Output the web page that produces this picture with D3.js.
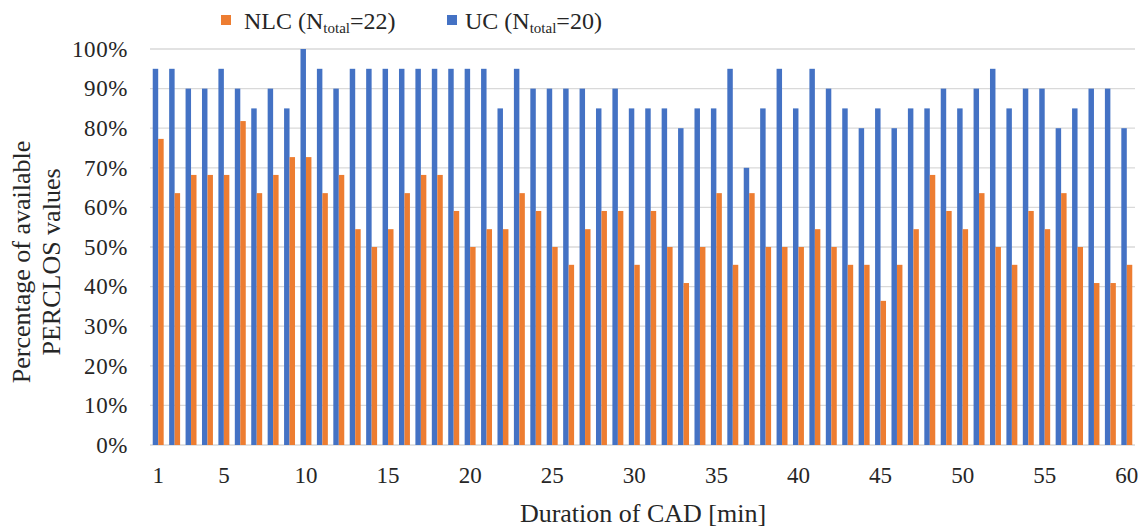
<!DOCTYPE html>
<html><head><meta charset="utf-8">
<script src="https://cdn.jsdelivr.net/npm/d3@7"></script>
<style>body{margin:0;background:#fff;}</style>
</head><body><svg id="c" width="1147" height="529"></svg>
<script>
const categories = d3.range(1, 61);
const ucValues = [95,95,90,90,95,90,85,90,85,100, 95,90,95,95,95,95,95,95,95,95, 95,85,95,90,90,90,90,85,90,85, 85,85,80,85,85,95,70,85,95,85, 95,90,85,80,85,80,85,85,90,85, 90,95,85,90,90,80,85,90,90,80];
const nlcValues = [77.3,63.6,68.2,68.2,68.2,81.8,63.6,68.2,72.7,72.7, 63.6,68.2,54.5,50,54.5,63.6,68.2,68.2,59.1,50, 54.5,54.5,63.6,59.1,50,45.5,54.5,59.1,59.1,45.5, 59.1,50,40.9,50,63.6,45.5,63.6,50,50,50, 54.5,50,45.5,45.5,36.4,45.5,54.5,68.2,59.1,54.5, 63.6,50,45.5,59.1,54.5,63.6,50,40.9,40.9,45.5];
const yTicks = [0,10,20,30,40,50,60,70,80,90,100];
const xTickLabels = [1,5,10,15,20,25,30,35,40,45,50,55,60];
const series = [
  {key:"UC", values: ucValues, color:"#4472c4"},
  {key:"NLC", values: nlcValues, color:"#ed7d31"}
];

const FONT = "'Liberation Serif', 'Times New Roman', 'DejaVu Serif', serif";
const TXT = "#262626";
const svg = d3.select("#c").attr("font-family", FONT);
const pLeft = 150, pRight = 1135, pTop = 49, pBottom = 445;
const x = d3.scaleBand().domain(categories).range([pLeft, pRight]).paddingInner(0).paddingOuter(0);
const inner = d3.scaleBand().domain(["UC","NLC"]).range([0, x.bandwidth()]).paddingInner(0).paddingOuter(0.5);
const y = d3.scaleLinear().domain([0,100]).range([pBottom, pTop]);

// gridlines
svg.append("g").selectAll("line").data(yTicks).join("line")
  .attr("x1", pLeft).attr("x2", pRight)
  .attr("y1", d=>y(d)).attr("y2", d=>y(d))
  .attr("stroke", "#d9d9d9").attr("stroke-width", 1.3);

// bars
const g = svg.append("g");
series.forEach(s => {
  g.append("g").selectAll("rect").data(categories).join("rect")
    .attr("x", (d) => x(d) + inner(s.key))
    .attr("width", inner.bandwidth())
    .attr("y", (d,i) => y(s.values[i]))
    .attr("height", (d,i) => y(0) - y(s.values[i]))
    .attr("fill", s.color);
});

// y axis labels
const yAxis = d3.axisLeft(y).tickValues(yTicks).tickFormat(d => d + "%").tickSize(0).tickPadding(0);
const ya = svg.append("g").attr("transform", `translate(128,0)`).call(yAxis)
  .attr("font-family", FONT).attr("font-size", 23);
ya.select(".domain").remove();
ya.selectAll("text").style("font-family", FONT).attr("fill", TXT).attr("letter-spacing", 0.6);

// x axis labels
const xAxis = d3.axisBottom(x).tickValues(xTickLabels).tickSize(0).tickPadding(22);
const xa = svg.append("g").attr("transform", `translate(0,${pBottom})`).call(xAxis)
  .attr("font-family", FONT).attr("font-size", 23);
xa.select(".domain").remove();
xa.selectAll("text").style("font-family", FONT).attr("fill", TXT);

// axis titles
svg.append("text").attr("x", 643).attr("y", 522).attr("text-anchor", "middle")
  .style("font-family", FONT).attr("font-size", 26).attr("fill", TXT).text("Duration of CAD [min]");
const yt = svg.append("text").attr("transform", "translate(30,262) rotate(-90)").attr("text-anchor", "middle")
  .style("font-family", FONT).attr("font-size", 26).attr("fill", TXT);
yt.append("tspan").attr("x", 0).attr("dy", 0).text("Percentage of available");
yt.append("tspan").attr("x", 0).attr("dy", 30).text("PERCLOS values");

// legend
const legend = [
  {label:"NLC (N", sub:"total", tail:"=22)", color:"#ed7d31", x:221, tx:244},
  {label:"UC (N", sub:"total", tail:"=20)", color:"#4472c4", x:447, tx:465}
];
legend.forEach(l => {
  svg.append("rect").attr("x", l.x).attr("y", 15).attr("width", 10).attr("height", 10).attr("fill", l.color);
  const t = svg.append("text").attr("x", l.tx).attr("y", 29).style("font-family", FONT).attr("font-size", 24).attr("fill", TXT);
  t.append("tspan").text(l.label);
  t.append("tspan").attr("font-size", 15).attr("dy", 4).text(l.sub);
  t.append("tspan").attr("dy", -4).text(l.tail);
});
</script></body></html>
